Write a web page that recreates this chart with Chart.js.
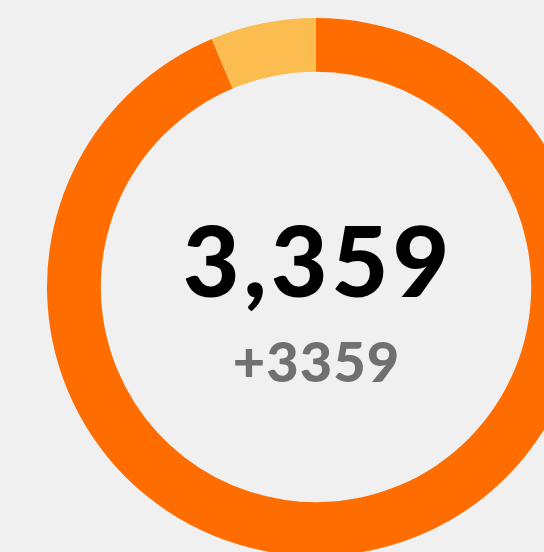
<!DOCTYPE html>
<html>
<head>
<meta charset="utf-8">
<script src="https://cdn.jsdelivr.net/npm/chart.js@4"></script>
<style>
  html, body { margin: 0; padding: 0; background: #f0f0f0; }
  body { width: 544px; height: 552px; overflow: hidden; position: relative; }
  #wrap { position: absolute; left: 47px; top: 18px; width: 538px; height: 538px; }
  .label { position: absolute; left: 0; width: 632px; text-align: center; font-family: Lato, 'Noto Sans', sans-serif; font-weight: 900; line-height: 1; }
  #total { top: 210px; font-size: 98px; color: #000; letter-spacing: 4px; text-indent: 4px; }
  #delta { top: 333px; font-size: 56px; color: #707070; letter-spacing: 1px; text-indent: 1px; }
</style>
</head>
<body>
<div id="wrap"><canvas id="donut" width="538" height="538"></canvas></div>
<div class="label" id="total"></div>
<div class="label" id="delta"></div>
<script>
const segments = ['Current', 'Other']
const values = [3359, 227]
const colors = ['#ff6d00', '#fbbd4f']

const total = values[0]
document.getElementById('total').textContent = total.toLocaleString('en-US')
document.getElementById('delta').textContent = '+' + total

new Chart(document.getElementById('donut').getContext('2d'), {
  type: 'doughnut',
  data: {
    labels: segments,
    datasets: [{
      data: values,
      backgroundColor: colors,
      borderWidth: 0,
    }],
  },
  options: {
    responsive: false,
    animation: false,
    cutout: '80%',
    layout: { padding: 0 },
    plugins: {
      legend: { display: false },
      tooltip: { enabled: false },
    },
  },
})
</script>
</body>
</html>
